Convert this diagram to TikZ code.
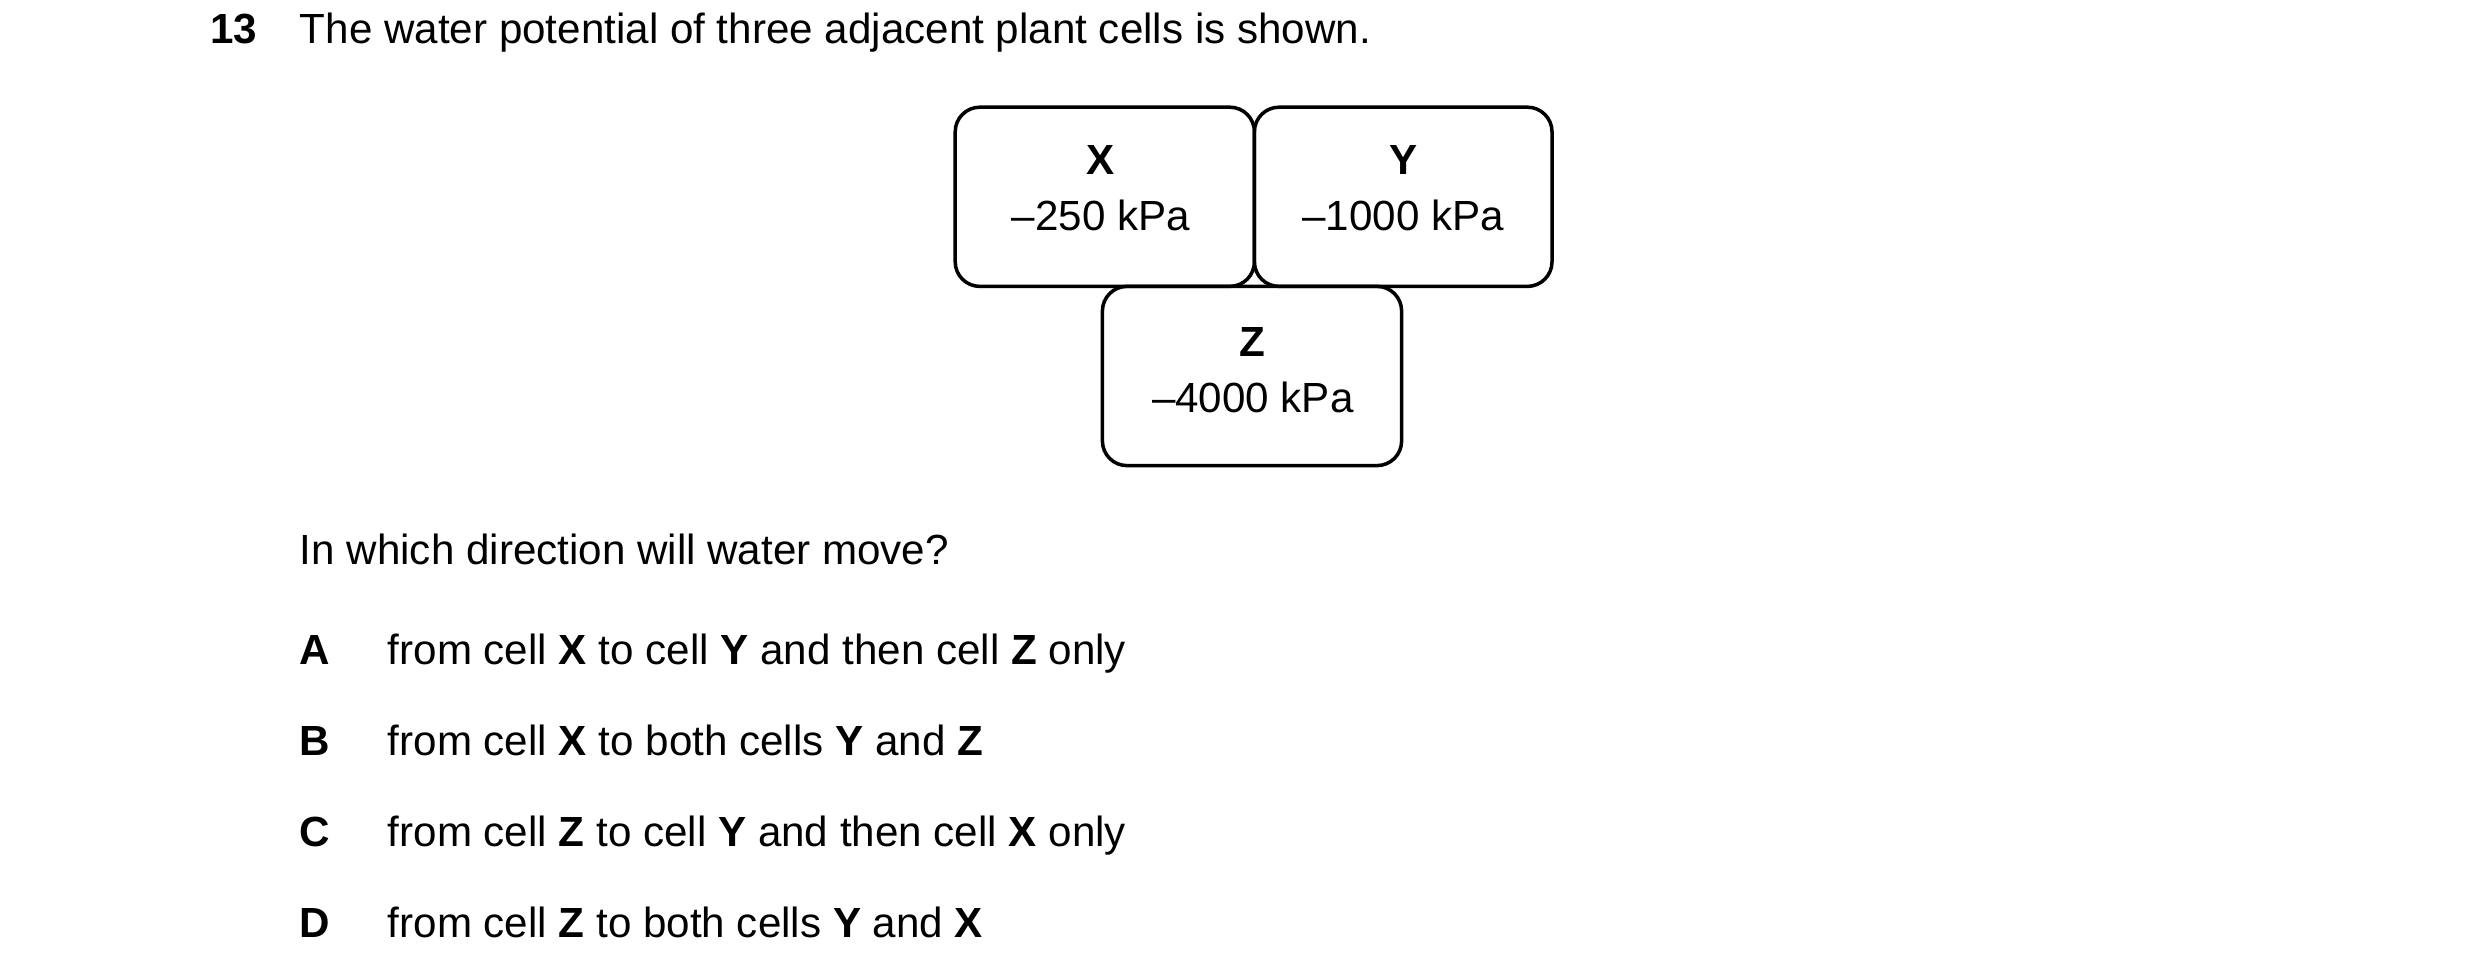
\documentclass[tikz,border=0pt]{standalone}
\usepackage{fontspec}
\setmainfont{Liberation Sans}
\begin{document}
\begin{tikzpicture}[x=0.016cm,y=-0.016cm,
  cell/.style={draw,line width=1pt,rounded corners=7pt},
  txt/.style={anchor=base west,inner sep=0,font=\fontsize{12}{14}\selectfont},
  ctxt/.style={anchor=base,inner sep=0,font=\fontsize{12}{14}\selectfont}]
\useasboundingbox (0,0) rectangle (1550,604);
\draw[cell] (597,67) rectangle (784,179);
\draw[cell] (784,67) rectangle (970,179);
\draw[cell] (689,179) rectangle (876,291);
\node[txt] (q) at (131,27) {\textbf{13}};
\node[txt] (qt) at (187,27) {The water potential of three adjacent plant cells is shown.};
\node[ctxt] (x1) at (688,109) {\textbf{X}};
\node[ctxt] (x2) at (688,144) {–250 kPa};
\node[ctxt] (y1) at (877,109) {\textbf{Y}};
\node[ctxt] (y2) at (877,144) {–1000 kPa};
\node[ctxt] (z1) at (783,223) {\textbf{Z}};
\node[ctxt] (z2) at (783,258) {–4000 kPa};
\node[txt] (ask) at (187,353) {In which direction will water move?};
\node[txt] (la) at (187,415) {\textbf{A}};
\node[txt] (ta) at (242,415) {from cell \textbf{X} to cell \textbf{Y} and then cell \textbf{Z} only};
\node[txt] (lb) at (187,472) {\textbf{B}};
\node[txt] (tb) at (242,472) {from cell \textbf{X} to both cells \textbf{Y} and \textbf{Z}};
\node[txt] (lc) at (187,529) {\textbf{C}};
\node[txt] (tc) at (242,529) {from cell \textbf{Z} to cell \textbf{Y} and then cell \textbf{X} only};
\node[txt] (ld) at (187,586) {\textbf{D}};
\node[txt] (td) at (242,586) {from cell \textbf{Z} to both cells \textbf{Y} and \textbf{X}};
\end{tikzpicture}
\end{document}
